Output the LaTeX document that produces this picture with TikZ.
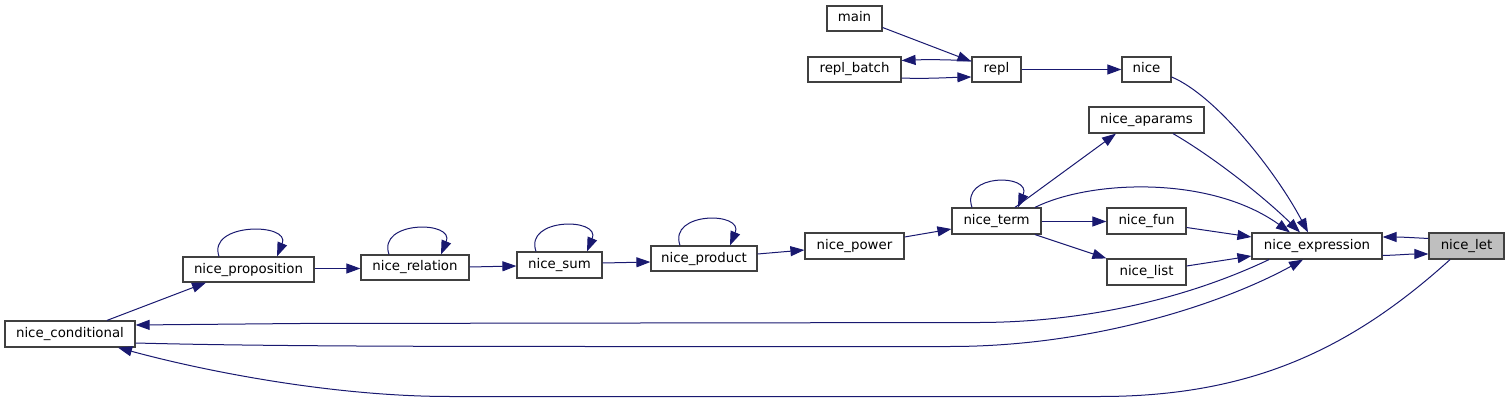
\documentclass[tikz,border=0pt]{standalone}
\usepackage{fontspec}
\setmainfont{DejaVu Sans}
\usetikzlibrary{arrows.meta}
\definecolor{midblue}{HTML}{191970}
\definecolor{boxgray}{HTML}{404040}
\definecolor{letgray}{HTML}{BFBFBF}
\begin{document}
\begin{tikzpicture}[x=1pt,y=-1pt,
  box/.style={draw=boxgray, fill=white, line width=1.2pt, minimum height=26pt,
    inner sep=0pt, text height=10pt, text depth=3pt,
    font=\fontsize{13.33}{16}\selectfont},
  edge/.style={draw=midblue, line width=1pt, -{Triangle[length=14pt,width=10pt]}}]
\useasboundingbox (0,0) rectangle (1509,403);
% nodes
\node[box, minimum width=55pt, minimum height=25pt] (main) at (854.5,18.5) {main};
\node[box, minimum width=93pt, minimum height=25pt] (repl_batch) at (854.5,69.5) {repl\_batch};
\node[box, minimum width=49pt, minimum height=25pt] (repl) at (996.5,69.5) {repl};
\node[box, minimum width=49pt, minimum height=25pt] (nice) at (1146.5,69.5) {nice};
\node[box, minimum width=115pt] (nice_aparams) at (1146.5,120) {nice\_aparams};
\node[box, minimum width=89pt] (nice_term) at (996.5,221) {nice\_term};
\node[box, minimum width=79pt] (nice_fun) at (1146.5,221) {nice\_fun};
\node[box, minimum width=79pt] (nice_list) at (1146.5,272) {nice\_list};
\node[box, minimum width=130pt] (nice_expression) at (1317,246) {nice\_expression};
\node[box, minimum width=75pt, fill=letgray] (nice_let) at (1466.5,246) {nice\_let};
\node[box, minimum width=99pt] (nice_power) at (854.5,246) {nice\_power};
\node[box, minimum width=106pt, minimum height=25pt] (nice_product) at (704,258.5) {nice\_product};
\node[box, minimum width=85pt] (nice_sum) at (559.5,265) {nice\_sum};
\node[box, minimum width=108pt, minimum height=25pt] (nice_relation) at (415,267.5) {nice\_relation};
\node[box, minimum width=131pt, minimum height=25pt] (nice_proposition) at (248.5,269.5) {nice\_proposition};
\node[box, minimum width=130pt] (nice_conditional) at (70,334) {nice\_conditional};
% edges
\draw[edge] (main.east |- 0,27.5) -- (repl.west |- 0,61.5);
\draw[edge] (repl.west |- 0,61) .. controls (950,59.5) and (925,59.5) .. (repl_batch.east |- 0,60.5);
\draw[edge] (repl_batch.east |- 0,78) .. controls (925,79) and (950,77.5) .. (repl.west |- 0,77);
\draw[edge] (repl) -- (nice);
\draw[edge] (nice.east |- 0,77) .. controls (1215,95) and (1275,170) .. (nice_expression.north -| 1308,0);
\draw[edge] (nice_aparams.south -| 1173,0) .. controls (1215,158) and (1265,198) .. (nice_expression.north -| 1300,0);
\draw[edge] (nice_term.north -| 1015,0) -- (nice_aparams.south -| 1116,0);
\draw[edge] (nice_term.north -| 1035,0) .. controls (1090,180) and (1210,175) .. (nice_expression.north -| 1290,0);
\draw[edge] (nice_term.east |- 0,221.5) -- (nice_fun.west |- 0,221.5);
\draw[edge] (nice_term.south -| 1035,0) -- (nice_list.north west);
\draw[edge] (nice_fun.east |- 0,227.5) -- (nice_expression.west |- 0,237);
\draw[edge] (nice_list.east |- 0,266) -- (nice_expression.west |- 0,256);
\draw[edge] (nice_let.west |- 0,238.5) .. controls (1410,237.5) and (1400,237) .. (nice_expression.east |- 0,237);
\draw[edge] (nice_expression.east |- 0,255.5) .. controls (1400,255) and (1410,254) .. (nice_let.west |- 0,254);
\draw[edge] (nice_expression.south -| 1269,0) .. controls (1190,297) and (1090,322) .. (980,322.5) -- (300,323.5) -- (nice_conditional.east |- 0,325);
\draw[edge] (nice_conditional.east |- 0,343) .. controls (250,346) and (400,346.5) .. (600,346.5) -- (950,346.5) .. controls (1100,346.5) and (1230,300) .. (nice_expression.south -| 1303,0);
\draw[edge] (nice_let.south -| 1450,0) .. controls (1350,350) and (1250,396.5) .. (1100,396.5) -- (450,396.5) .. controls (330,396.5) and (200,370) .. (nice_conditional.south -| 118,0);
\draw[edge] (nice_conditional.north -| 107,0) -- (nice_proposition.south -| 206,0);
\draw[edge] (nice_proposition.east |- 0,268.5) -- (nice_relation.west |- 0,268.5);
\draw[edge] (nice_relation.east |- 0,267) -- (nice_sum.west |- 0,266);
\draw[edge] (nice_sum.east |- 0,263) -- (nice_product.west |- 0,262);
\draw[edge] (nice_product.east |- 0,254) -- (nice_power.west |- 0,250);
\draw[edge] (nice_power.east |- 0,237) -- (nice_term.west |- 0,229);
% self loops
\draw[edge] (nice_term.north -| 972,0) .. controls +(-12,-34) and +(14,-34) .. (nice_term.north -| 1018,0);
\draw[edge] (nice_proposition.north -| 219,0) .. controls +(-12,-34) and +(14,-34) .. (nice_proposition.north -| 277,0);
\draw[edge] (nice_relation.north -| 389,0) .. controls +(-12,-34) and +(14,-34) .. (nice_relation.north -| 441,0);
\draw[edge] (nice_sum.north -| 536,0) .. controls +(-12,-34) and +(14,-34) .. (nice_sum.north -| 587,0);
\draw[edge] (nice_product.north -| 680,0) .. controls +(-12,-34) and +(14,-34) .. (nice_product.north -| 730,0);
\end{tikzpicture}
\end{document}
